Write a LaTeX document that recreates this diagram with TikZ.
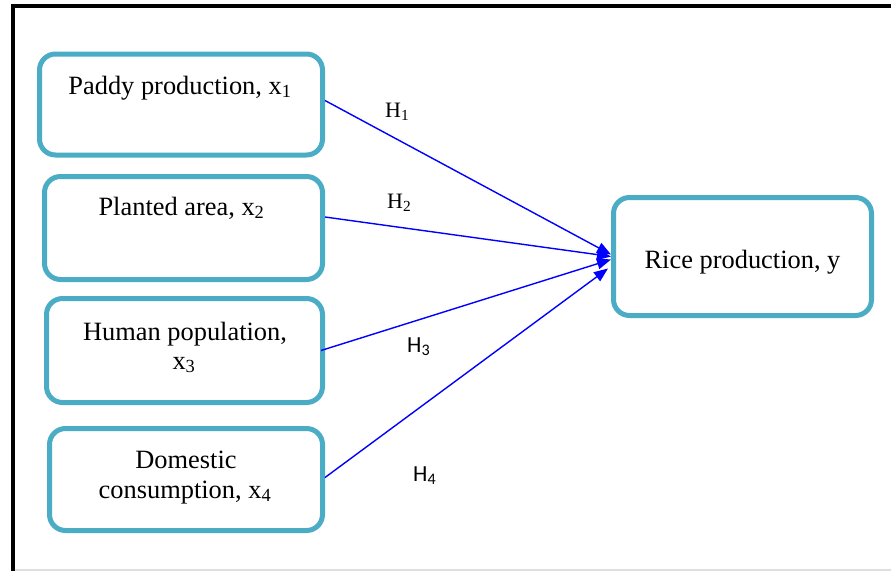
\documentclass[tikz,border=0pt]{standalone}
\usepackage{fontspec}
\setmainfont{Liberation Serif}
\newfontfamily\hsans{Carlito}
\usetikzlibrary{arrows.meta}
\definecolor{boxteal}{HTML}{4BACC6}
\definecolor{arrowblue}{HTML}{0000FF}
\begin{document}
\begin{tikzpicture}[x=1pt,y=-1pt,
  box/.style={draw=boxteal, line width=5pt, rounded corners=16pt, fill=white, inner sep=0pt},
  boxtext/.style={anchor=base, inner sep=0pt, font=\fontsize{26.4}{30}\selectfont},
  hserif/.style={anchor=base west, inner sep=0pt, font=\fontsize{22}{26}\selectfont},
  hsansst/.style={anchor=base west, inner sep=0pt, font=\hsans\fontsize{23}{27}\selectfont},
  link/.style={draw=arrowblue, line width=1.4pt, -{Triangle[length=14pt,width=11pt]}}
]
\useasboundingbox (0,0) rectangle (891,571);
% frame
\draw[gray!25, line width=1.5pt] (12,570) -- (891,570);
\draw[black, line width=4pt] (12.5,571) -- (12.5,6) -- (891,6);

% boxes
\node[box, minimum width=283pt, minimum height=101pt] (b1) at (181,104.5) {};
\node[box, minimum width=278pt, minimum height=103pt] (b2) at (183.5,228) {};
\node[box, minimum width=276pt, minimum height=104pt] (b3) at (184.5,350.5) {};
\node[box, minimum width=273pt, minimum height=102pt] (b4) at (186,479.5) {};
\node[box, minimum width=258pt, minimum height=118pt] (r) at (742.5,256.5) {};

% box texts
\node[boxtext] (t1) at (180,94) {Paddy production, x\textsubscript{1}};
\node[boxtext] (t2) at (181.5,215) {Planted area, x\textsubscript{2}};
\node[boxtext] (t3a) at (185,340) {Human population,};
\node[boxtext] (t3b) at (184,369) {x\textsubscript{3}};
\node[boxtext] (t4a) at (186,468) {Domestic};
\node[boxtext] (t4b) at (185,498) {consumption, x\textsubscript{4}};
\node[boxtext] (tr) at (742.5,268) {Rice production, y};

% connectors
\draw[link] ([yshift=4pt]b1.east) -- ([yshift=2pt]r.west);
\draw[link] ([yshift=11pt]b2.east) -- ([yshift=0pt]r.west);
\draw[link] ([xshift=-4pt]b3.east) -- ([yshift=-3pt]r.west);
\draw[link] ([yshift=2pt]b4.east) -- ([xshift=-3pt,yshift=-12pt]r.west);

% labels
\node[hserif] (h1) at (385,117) {H\textsubscript{1}};
\node[hserif] (h2) at (387,208) {H\textsubscript{2}};
\node[hsansst] (h3) at (407,352) {H\textsubscript{3}};
\node[hsansst] (h4) at (413,481) {H\textsubscript{4}};
\end{tikzpicture}
\end{document}
